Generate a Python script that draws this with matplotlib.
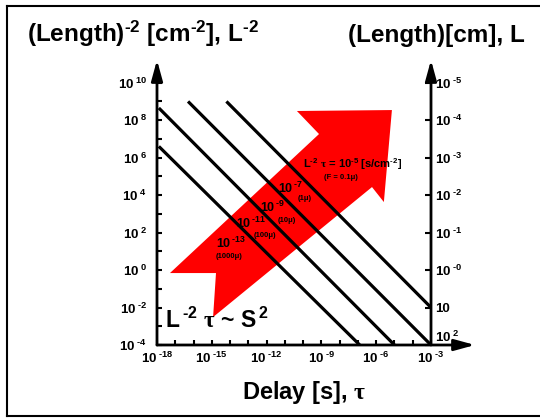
import numpy as np
import matplotlib
matplotlib.use('Agg')
import matplotlib.pyplot as plt
from matplotlib.patches import Polygon
from matplotlib.lines import Line2D
from matplotlib.transforms import ScaledTranslation

plt.rcParams['font.family'] = ['Liberation Sans', 'DejaVu Sans']
plt.rcParams['font.weight'] = 'bold'
plt.rcParams['mathtext.fontset'] = 'custom'
plt.rcParams['mathtext.rm'] = 'Liberation Serif'
plt.rcParams['mathtext.bf'] = 'Liberation Sans:bold'
plt.rcParams['mathtext.it'] = 'Liberation Serif:italic'
plt.rcParams['mathtext.default'] = 'bf'

HY = '\u2010'   # short hyphen instead of the long math minus

def sup(base, e, gap='\\;'):
    return base + '$' + gap + '^{' + str(e).replace('-', HY) + '}$'

# axis exponents (log10)
x_ticks = np.arange(-18, -2)            # delay, every decade
x_labels = [-18, -15, -12, -9, -6, -3]
y_ticks = np.arange(-4, 11)             # L^-2, every decade
y_labels = np.arange(-4, 11, 2)
right_exps = ['2', '', '-0', '-1', '-2', '-3', '-4', '-5']   # L = (L^-2)^-1/2

# lines of constant L^-2 * tau, end points (log10)
tau_start = [-14.2, -16.3, -17.9, -17.9]
tau_end = [-3.0, -3.0, -5.0, -6.9]
l2_start = [9.0, 9.0, 8.65, 6.6]
l2_end = [-2.0, -4.0, -4.0, -4.0]

# labels along the arrow
lab_exp = ['-13', '-11', '-9', '-7']
lab_sub = ['(1000μ)', '(100μ)', '(10μ)', '(1μ)']
lab_x = [-13.95, -12.85, -11.65, -10.67]
lab_y = [1.44, 2.51, 3.36, 4.38]
sub_x = [-14.06, -12.09, -10.88, -9.90]
sub_y = [0.70, 1.87, 2.67, 3.84]

# big red arrow outline (log10 tau, log10 L^-2)
arrow_tau = [-17.29, -9.13, -10.34, -5.14, -5.58, -6.23, -14.93, -14.77]
arrow_l2 = [-0.16, 7.26, 8.49, 8.54, 3.63, 4.43, -2.51, -0.16]

W, H = 540, 419
fig = plt.figure(figsize=(W / 100, H / 100), dpi=100)
ax = fig.add_axes([157 / W, 1 - 345 / H, 274 / W, 262.3 / H])
ax.set_xscale('log')
ax.set_yscale('log')
ax.set_xlim(10.0 ** -18, 10.0 ** -3)
ax.set_ylim(10.0 ** -4, 10.0 ** 10)
for s in ax.spines.values():
    s.set_visible(False)

ax.add_patch(Polygon(np.column_stack([10.0 ** np.array(arrow_tau), 10.0 ** np.array(arrow_l2)]),
                     closed=True, facecolor='#ff0000', edgecolor='none', zorder=1))

for t0, t1, a0, a1 in zip(tau_start, tau_end, l2_start, l2_end):
    ax.plot([10.0 ** t0, 10.0 ** t1], [10.0 ** a0, 10.0 ** a1], color='black', lw=2.3,
            solid_capstyle='butt', zorder=2)

for e, s, x0, y0, x1, y1 in zip(lab_exp, lab_sub, lab_x, lab_y, sub_x, sub_y):
    ax.text(10.0 ** x0, 10.0 ** y0, sup('10', e, '\\,'), fontsize=9, ha='center', va='center', zorder=3)
    ax.text(10.0 ** x1, 10.0 ** y1, s, fontsize=5.5, ha='center', va='center', zorder=3)
ax.text(10.0 ** -7.27, 10.0 ** 5.66,
        sup('L', -2, '') + ' $\\mathrm{\\tau}$ = ' + sup('10', -5, '') + ' [s/cm' + sup('', -2, '') + ']',
        fontsize=8, ha='center', va='center', zorder=3)
ax.text(10.0 ** -7.93, 10.0 ** 4.96, '(F = 0.1μ)', fontsize=5.5, ha='center', va='center', zorder=3)
ax.text(10.0 ** -17.55, 10.0 ** -3.09,
        sup('L', -2, '\\,') + ' $\\mathrm{\\tau}$ ~ ' + sup('S', 2, '\\,'), fontsize=16.5,
        ha='left', va='baseline', zorder=3)

# ticks
ax.minorticks_off()
ax.set_xticks(10.0 ** x_ticks)
ax.set_xticklabels([sup('10', k) if k in x_labels else '' for k in x_ticks], fontsize=9.5)
ax.set_yticks(10.0 ** y_ticks)
ax.set_yticklabels([sup('10', k) if k in y_labels else '' for k in y_ticks], fontsize=9.5)
ax.tick_params(axis='x', direction='in', length=3.5, width=1.5, pad=4)
ax.tick_params(axis='y', direction='in', length=3.8, width=1.5, pad=7)

ax2 = ax.twinx()
ax2.set_yscale('log')
ax2.set_ylim(ax.get_ylim())
for s in ax2.spines.values():
    s.set_visible(False)
ax2.minorticks_off()
ax2.set_yticks(10.0 ** y_labels)
ax2.set_yticklabels([sup('10', e) if e else '10' for e in right_exps], fontsize=9.5)
ax2.tick_params(axis='y', direction='in', length=4.5, width=1.5, pad=3)
lbl = ax2.get_yticklabels()[0]
lbl.set_transform(lbl.get_transform() + ScaledTranslation(0, 0.09, fig.dpi_scale_trans))

# axis lines with arrow heads
arr = dict(arrowstyle='-|>,head_length=0.62,head_width=0.17', mutation_scale=20,
           color='black', lw=2, shrinkA=0, shrinkB=0)
ax.annotate('', xy=(0, 285 / 262.3), xytext=(0, 0), xycoords='axes fraction', arrowprops=arr,
            annotation_clip=False)
ax.annotate('', xy=(1, 285 / 262.3), xytext=(1, 0), xycoords='axes fraction', arrowprops=arr,
            annotation_clip=False)
ax.annotate('', xy=(318 / 274, 0), xytext=(0, 0), xycoords='axes fraction', arrowprops=arr,
            annotation_clip=False)

# titles and axis name
fig.text(27 / W, 1 - 42 / H,
         '(Length)' + sup('', -2, '') + ' [cm' + sup('', -2, '') + '], L' + sup('', -2, ''),
         fontsize=17.5, ha='left', va='baseline')
fig.text(525 / W, 1 - 42 / H, '(Length)[cm], L', fontsize=17.5, ha='right', va='baseline')
fig.text(304 / W, 1 - 392 / H, 'Delay [s], $\\mathrm{\\tau}$', fontsize=17, ha='center', va='center')

# outer frame
fig.add_artist(Line2D([7 / W, 7 / W], [1 - 6 / H, 1 - 416 / H], transform=fig.transFigure, color='black', lw=1.5))
fig.add_artist(Line2D([7 / W, 1], [1 - 6 / H, 1 - 6 / H], transform=fig.transFigure, color='black', lw=1.5))
fig.add_artist(Line2D([7 / W, 1], [1 - 416 / H, 1 - 416 / H], transform=fig.transFigure, color='black', lw=1.5))

fig.savefig('out.png', dpi=100)
